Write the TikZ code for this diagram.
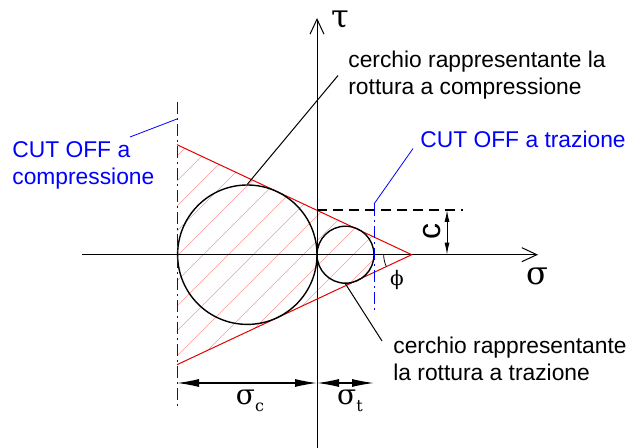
\documentclass[tikz,border=0pt]{standalone}
\usepackage{fontspec}
\setmainfont{Liberation Sans}
\newfontfamily\greekfont{DejaVu Serif}
\usetikzlibrary{arrows.meta,calc}

\newcommand{\lowsub}[1]{\raisebox{-0.45ex}{\fontsize{8}{8}\selectfont #1}}

\tikzset{
  axis/.style={line width=0.5pt, -{Straight Barb[length=7.5pt,width=7pt]}},
  cutoff/.style={blue, line width=0.5pt, dash pattern=on 6pt off 2pt on 1pt off 2pt},
  envelope/.style={red!90!black, line width=0.5pt},
  hatchline/.style={red!40, line width=0.35pt},
  mohr/.style={circle, draw, line width=0.7pt, inner sep=0pt},
  dimarrow/.style={line width=0.6pt, {Latex[length=11pt,width=4pt]}-{Latex[length=11pt,width=4pt]}},
  lbl/.style={align=left, inner sep=0pt, anchor=north west},
  greek/.style={font=\greekfont\fontsize{14}{14}\selectfont, inner sep=0pt}
}

\begin{document}
\begin{tikzpicture}[x=0.5pt, y=-0.5pt, font=\fontsize{11.4}{13.5}\selectfont]
  \useasboundingbox (0,0) rectangle (637,448);
  % main points
  \coordinate (O) at (317,254.7);
  \coordinate (apex) at (411.7,254.7);
  \coordinate (envT) at (177,144.7);
  \coordinate (envB) at (177,364.7);

  % hatched zone between the two cut offs
  \begin{scope}
    \clip (envT) -- (374,237) -- (374,272.4) -- (envB) -- cycle;
    \foreach \k in {-140,-115,...,215}
      \draw[hatchline] (\k,448) -- (\k+448,0);
  \end{scope}

  % axes
  \coordinate (sigL) at (82,254.7);
  \coordinate (sigR) at (538,254.7);
  \coordinate (tauB) at (317,448);
  \coordinate (tauT) at (317,18);
  \draw[axis] (sigL) -- (sigR);
  \draw[axis] (tauB) -- (tauT);
  \node[greek, font=\greekfont\fontsize{16}{16}\selectfont] (tau) at (340,20) {τ};
  \node[greek, font=\greekfont\fontsize{16}{16}\selectfont] (sig) at (537,276) {σ};

  % envelope and the two circles
  \draw[envelope] (envT) -- (apex) -- (envB);
  \node[mohr, minimum size=69.7pt] (bigC) at (247.3,254.7) {};
  \node[mohr, minimum size=28.5pt] (smallC) at (345.5,254.7) {};
  \draw[line width=0.4pt] (apex) ++(-14pt,0pt) arc[start angle=180, end angle=205, radius=14pt];
  \node[greek, font=\greekfont\fontsize{10}{10}\selectfont] (phi) at (397,280) {ϕ};

  % cohesion c
  \coordinate (cTop) at (317,210);
  \coordinate (cEnd) at (463,210);
  \draw[line width=0.7pt, dash pattern=on 5pt off 3pt] (cTop) -- (cEnd);
  \coordinate (cA) at (447,210);
  \coordinate (cB) at (447,254.7);
  \draw[line width=0.5pt, {Latex[length=6pt,width=2.5pt]}-{Latex[length=6pt,width=2.5pt]}] (cA) -- (cB);
  \node[rotate=90, font=\fontsize{16}{16}\selectfont, inner sep=0pt] (clbl) at (432,232) {c};

  % cut off lines
  \coordinate (cutLtop) at (177,102);
  \coordinate (cutLbot) at (177,407);
  \coordinate (cutRtop) at (374,204);
  \coordinate (cutRbot) at (374,313);
  \draw[cutoff] (cutLtop) -- (cutLbot);
  \draw[cutoff] (cutRtop) -- (cutRbot);

  % texts
  \node[lbl] (bigtxt) at (348,51) {cerchio rappresentante la\\rottura a compressione};
  \node[lbl] (smalltxt) at (393,337) {cerchio rappresentante\\la rottura a trazione};
  \node[lbl, blue] (cmptxt) at (12,141) {CUT OFF a\\compressione};
  \node[lbl, blue] (trztxt) at (420,131) {CUT OFF a trazione};

  % leaders
  \coordinate (cutLmark) at (177,119);
  \coordinate (cmplead) at (130,137);
  \draw[blue, line width=0.4pt] (cutLmark) -- (cmplead);
  \draw[blue, line width=0.4pt] (cutRtop) -- ([xshift=-3.5pt]trztxt.south west);
  \draw[line width=0.5pt] (bigC.north) -- ([xshift=-5pt]bigtxt.west);
  \draw[line width=0.5pt] (smallC.south) -- ([shift={(-5.5pt,-2pt)}]smalltxt.north west);

  % dimensions sigma_c and sigma_t
  \coordinate (dimL) at (177,383);
  \coordinate (dimO) at (317,383);
  \coordinate (dimR) at (374,383);
  \draw[dimarrow] (dimL) -- (dimO);
  \draw[dimarrow] (dimO) -- (dimR);
  \node[greek] (sigc) at (250,401) {σ\lowsub{c}};
  \node[greek] (sigt) at (350,401) {σ\lowsub{t}};
\end{tikzpicture}
\end{document}
